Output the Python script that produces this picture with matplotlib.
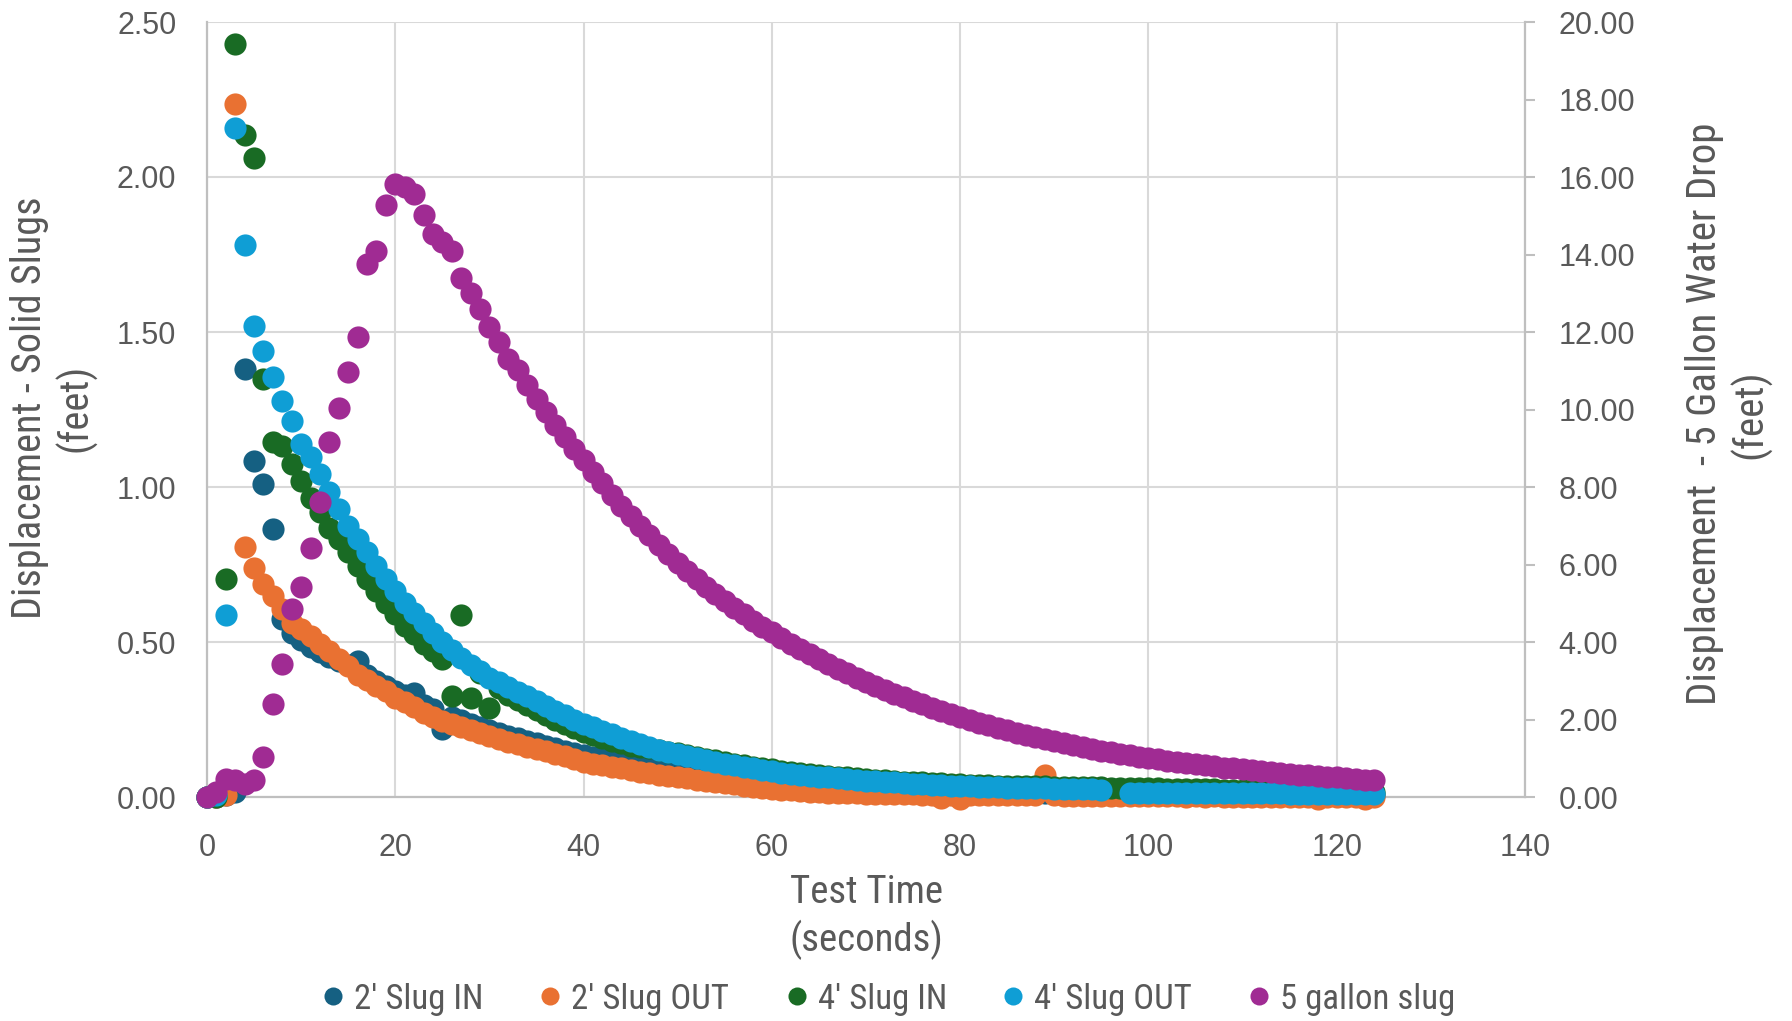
import os
import numpy as np
import matplotlib
matplotlib.use("Agg")
import matplotlib.pyplot as plt
from matplotlib import font_manager as fm
from matplotlib.lines import Line2D
from matplotlib.ticker import FormatStrFormatter

# ---------------- data ----------------
time_s = list(range(0, 125))

slug2_in = [
    0.000, 0.000, 0.005, 0.015, 1.381, 1.083, 1.009, 0.864, 0.573, 0.530,
    0.505, 0.485, 0.468, 0.452, 0.440, 0.425, 0.438, 0.392, 0.374, 0.358,
    0.343, 0.328, 0.334, 0.298, 0.284, 0.218, 0.258, 0.247, 0.236, 0.226,
    0.216, 0.207, 0.198, 0.189, 0.181, 0.173, 0.165, 0.157, 0.150, 0.143,
    0.136, 0.130, 0.124, 0.118, 0.112, 0.106, 0.100, 0.095, 0.090, 0.085,
    0.080, 0.076, 0.072, 0.068, 0.064, 0.060, 0.057, 0.054, 0.051, 0.048,
    0.045, 0.043, 0.041, 0.039, 0.037, 0.035, 0.033, 0.031, 0.030, 0.028,
    0.027, 0.026, 0.025, 0.024, 0.023, 0.022, 0.021, 0.020, 0.019, 0.018,
    0.018, 0.017, 0.017, 0.016, 0.016, 0.015, 0.015, 0.014, 0.014, 0.014,
    0.013, 0.013, 0.013, 0.012, 0.012, 0.012, 0.011, 0.011, 0.011, 0.011,
    0.010, 0.010, 0.010, 0.010, 0.010, 0.009, 0.009, 0.009, 0.009, 0.009,
    0.009, 0.008, 0.008, 0.008, 0.008, 0.008, 0.008, 0.008, 0.007, 0.007,
    0.007, 0.007, 0.007, 0.007, 0.007,
]

slug2_out = [
    0.000, 0.000, 0.005, 2.234, 0.807, 0.740, 0.686, 0.648, 0.605, 0.562,
    0.541, 0.519, 0.492, 0.471, 0.444, 0.422, 0.395, 0.379, 0.357, 0.341,
    0.320, 0.305, 0.290, 0.272, 0.258, 0.246, 0.235, 0.225, 0.215, 0.205,
    0.196, 0.187, 0.178, 0.170, 0.162, 0.155, 0.147, 0.139, 0.131, 0.122,
    0.113, 0.108, 0.102, 0.097, 0.092, 0.087, 0.082, 0.077, 0.072, 0.068,
    0.064, 0.060, 0.056, 0.052, 0.048, 0.045, 0.041, 0.037, 0.033, 0.029,
    0.025, 0.023, 0.021, 0.019, 0.017, 0.015, 0.014, 0.013, 0.012, 0.012,
    0.011, 0.011, 0.010, 0.010, 0.009, 0.009, 0.008, 0.008, -0.004, 0.007,
    -0.006, 0.007, 0.006, 0.006, 0.006, 0.005, 0.005, 0.005, 0.005, 0.072,
    0.005, 0.004, 0.004, 0.004, 0.004, 0.003, 0.003, 0.002, 0.003, 0.002,
    0.002, 0.003, 0.002, 0.002, 0.001, 0.002, 0.001, 0.002, 0.001, 0.001,
    0.001, 0.001, 0.000, 0.001, 0.000, 0.001, 0.000, 0.000, -0.006, 0.000,
    0.000, 0.000, 0.000, -0.006, 0.000,
]

slug4_in = [
    0.000, 0.000, 0.702, 2.430, 2.135, 2.062, 1.347, 1.144, 1.133, 1.074,
    1.020, 0.966, 0.918, 0.869, 0.832, 0.789, 0.745, 0.702, 0.664, 0.627,
    0.589, 0.551, 0.525, 0.495, 0.470, 0.445, 0.325, 0.587, 0.320, 0.400,
    0.288, 0.352, 0.330, 0.314, 0.297, 0.280, 0.264, 0.250, 0.236, 0.223,
    0.211, 0.200, 0.190, 0.181, 0.173, 0.166, 0.161, 0.157, 0.151, 0.146,
    0.141, 0.135, 0.129, 0.123, 0.118, 0.113, 0.108, 0.103, 0.098, 0.093,
    0.089, 0.085, 0.081, 0.078, 0.075, 0.072, 0.069, 0.066, 0.063, 0.061,
    0.058, 0.056, 0.054, 0.052, 0.050, 0.048, 0.047, 0.045, 0.044, 0.042,
    0.041, 0.040, 0.039, 0.038, 0.037, 0.036, 0.036, 0.035, 0.034, 0.034,
    0.033, 0.033, 0.032, 0.032, 0.031, 0.031, 0.030, 0.030, 0.029, 0.029,
    0.028, 0.028, 0.027, 0.027, 0.026, 0.026, 0.025, 0.025, 0.024, 0.024,
    0.023, 0.023, 0.022, 0.022, 0.021, 0.021, 0.020, 0.020, 0.019, 0.019,
    0.018, 0.018, 0.017, 0.017, 0.016,
]

slug4_out = [
    0.000, 0.005, 0.586, 2.157, 1.780, 1.519, 1.440, 1.354, 1.279, 1.212,
    1.139, 1.096, 1.042, 0.983, 0.929, 0.875, 0.832, 0.789, 0.745, 0.702,
    0.664, 0.627, 0.595, 0.562, 0.530, 0.500, 0.475, 0.450, 0.425, 0.405,
    0.385, 0.370, 0.355, 0.340, 0.325, 0.310, 0.292, 0.278, 0.264, 0.250,
    0.237, 0.225, 0.213, 0.202, 0.191, 0.181, 0.171, 0.162, 0.153, 0.145,
    0.138, 0.131, 0.125, 0.119, 0.113, 0.108, 0.103, 0.098, 0.093, 0.088,
    0.083, 0.079, 0.075, 0.072, 0.069, 0.066, 0.063, 0.060, 0.058, 0.055,
    0.053, 0.051, 0.049, 0.047, 0.045, 0.043, 0.041, 0.040, 0.038, 0.037,
    0.035, 0.034, 0.033, 0.032, 0.031, 0.030, 0.030, 0.029, 0.028, 0.028,
    0.027, 0.026, 0.026, 0.025, 0.025, 0.024, np.nan, np.nan, 0.013, 0.013,
    0.013, 0.013, 0.013, 0.013, 0.013, 0.013, 0.012, 0.012, 0.012, 0.012,
    0.012, 0.012, 0.012, 0.012, 0.012, 0.011, 0.011, 0.011, 0.011, 0.011,
    0.011, 0.011, 0.011, 0.011, 0.011,
]

gallon5_slug = [
    0.00, 0.13, 0.47, 0.43, 0.34, 0.43, 1.03, 2.41, 3.42, 4.84,
    5.42, 6.42, 7.61, 9.16, 10.04, 10.98, 11.88, 13.76, 14.08, 15.29,
    15.82, 15.73, 15.56, 15.02, 14.53, 14.32, 14.10, 13.39, 13.00, 12.60,
    12.12, 11.74, 11.31, 11.01, 10.62, 10.28, 9.93, 9.59, 9.29, 8.99,
    8.70, 8.40, 8.10, 7.80, 7.52, 7.25, 7.00, 6.75, 6.50, 6.27,
    6.05, 5.84, 5.63, 5.43, 5.24, 5.06, 4.88, 4.71, 4.55, 4.40,
    4.25, 4.10, 3.96, 3.82, 3.68, 3.55, 3.43, 3.31, 3.19, 3.08,
    2.97, 2.86, 2.76, 2.66, 2.57, 2.48, 2.39, 2.30, 2.22, 2.14,
    2.06, 1.99, 1.92, 1.85, 1.79, 1.72, 1.66, 1.60, 1.55, 1.49,
    1.44, 1.39, 1.34, 1.29, 1.25, 1.20, 1.16, 1.12, 1.08, 1.04,
    1.00, 0.97, 0.94, 0.91, 0.88, 0.85, 0.82, 0.79, 0.76, 0.74,
    0.71, 0.69, 0.66, 0.64, 0.62, 0.60, 0.58, 0.56, 0.54, 0.52,
    0.51, 0.49, 0.47, 0.45, 0.43,
]

series_labels = ["2' Slug IN", "2' Slug OUT", "4' Slug IN", "4' Slug OUT", "5 gallon slug"]
series_colors = ["#156082", "#E97132", "#196B24", "#0F9ED5", "#A02B93"]

x_ticks = [0, 20, 40, 60, 80, 100, 120, 140]
left_ticks = [0.0, 0.5, 1.0, 1.5, 2.0, 2.5]
right_ticks = [0, 2, 4, 6, 8, 10, 12, 14, 16, 18, 20]

x_title = "Test Time\n(seconds)"
left_title = "Displacement - Solid Slugs\n(feet)"
right_title = "Displacement  - 5 Gallon Water Drop\n(feet)"

# ---------------- fonts ----------------
plt.rcParams["font.family"] = ["Liberation Sans", "DejaVu Sans"]
TEXT = "#595959"


def pick_narrow():
    prio = ["liberation sans narrow", "arial narrow", "roboto condensed",
            "noto sans", "open sans", "dejavu sans"]
    best = None
    for f in fm.fontManager.ttflist:
        nm = f.name.lower()
        fn = os.path.basename(f.fname).lower()
        st = str(f.stretch).lower()
        if any(k in nm for k in ("mono", "serif", "cjk", "symbol")):
            continue
        narrow = ("narrow" in nm or "condensed" in nm or st == "condensed"
                  or "narrow" in fn or "-condensed" in fn)
        if not narrow:
            continue
        if "semi" in fn or "extra" in fn or "ultra" in fn or "semi" in st:
            continue
        if f.style != "normal":
            continue
        w = f.weight if isinstance(f.weight, int) else {"normal": 400, "regular": 400, "book": 400}.get(str(f.weight), 0)
        if w != 400:
            continue
        rank = len(prio)
        for i, p in enumerate(prio):
            if nm.startswith(p):
                rank = i
                break
        if best is None or rank < best[0]:
            best = (rank, f.fname)
    return best[1] if best else None


narrow_path = pick_narrow()


def narrow_font(size):
    if narrow_path:
        return fm.FontProperties(fname=narrow_path, size=size)
    return fm.FontProperties(family="Liberation Sans", size=size * 0.84)


# ---------------- figure ----------------
W, H = 1792, 1021
fig = plt.figure(figsize=(W / 100, H / 100), dpi=100)
fig.patch.set_facecolor("white")
ax = fig.add_axes([207 / W, 1 - 797 / H, (1525 - 207) / W, (797 - 22) / H])
ax2 = ax.twinx()

primary = [slug2_in, slug2_out, slug4_in, slug4_out]
for vals, col in zip(primary, series_colors[:4]):
    ax.scatter(time_s, vals, s=255, color=col, linewidths=0, zorder=3, clip_on=False)
ax2.scatter(time_s, gallon5_slug, s=255, color=series_colors[4], linewidths=0,
            zorder=3, clip_on=False)

ax.set_xlim(0, 140)
ax.set_ylim(0, 2.5)
ax2.set_ylim(0, 20)
ax.set_xticks(x_ticks)
ax.set_yticks(left_ticks)
ax2.set_yticks(right_ticks)
ax.yaxis.set_major_formatter(FormatStrFormatter("%.2f"))
ax2.yaxis.set_major_formatter(FormatStrFormatter("%.2f"))

ax.set_axisbelow(True)
ax.grid(True, color="#D9D9D9", linewidth=1.5)

for sp in ("top", "right"):
    ax.spines[sp].set_visible(False)
for sp in ("left", "bottom"):
    ax.spines[sp].set_color("#BFBFBF")
    ax.spines[sp].set_linewidth(1.6)
for sp in ("top", "left", "bottom"):
    ax2.spines[sp].set_visible(False)
ax2.spines["right"].set_color("#BFBFBF")
ax2.spines["right"].set_linewidth(1.6)

ax.tick_params(axis="x", length=0, pad=26, labelsize=22, labelcolor=TEXT)
ax.tick_params(axis="y", length=0, pad=22, labelsize=22, labelcolor=TEXT)
ax2.tick_params(axis="y", length=7.2, width=1.5, color="#BFBFBF", direction="out",
                pad=17, labelsize=22, labelcolor=TEXT)

# axis titles
fig.text(866 / W, 1 - 917 / H, x_title, ha="center", va="center",
         multialignment="center", color=TEXT, fontproperties=narrow_font(28),
         linespacing=1.3)
fig.text(53 / W, 1 - 408 / H, left_title, ha="center", va="center", rotation=90,
         multialignment="center", color=TEXT, fontproperties=narrow_font(29),
         linespacing=1.16)
fig.text(1728 / W, 1 - 414 / H, right_title, ha="center", va="center", rotation=90,
         multialignment="center", color=TEXT, fontproperties=narrow_font(29.5),
         linespacing=1.16)

# legend: one entry per legend box, placed at the reference's entry positions
legend_marker_x = [333, 550, 797, 1013, 1259]
leg_font = narrow_font(25)
leg_px = leg_font.get_size_in_points() * 100 / 72
handle_len = 0.6
for lab, col, mx in zip(series_labels, series_colors, legend_marker_x):
    h = Line2D([], [], linestyle="", marker="o", markersize=13, markeredgewidth=0, color=col)
    x0 = mx - handle_len * leg_px / 2
    lg = fig.legend([h], [lab], loc="center left", bbox_to_anchor=(x0 / W, 1 - 999 / H),
                    frameon=False, prop=leg_font, labelcolor=TEXT,
                    handlelength=handle_len, handletextpad=0.3,
                    borderpad=0, borderaxespad=0)

fig.savefig("out.png", dpi=100, facecolor="white")
